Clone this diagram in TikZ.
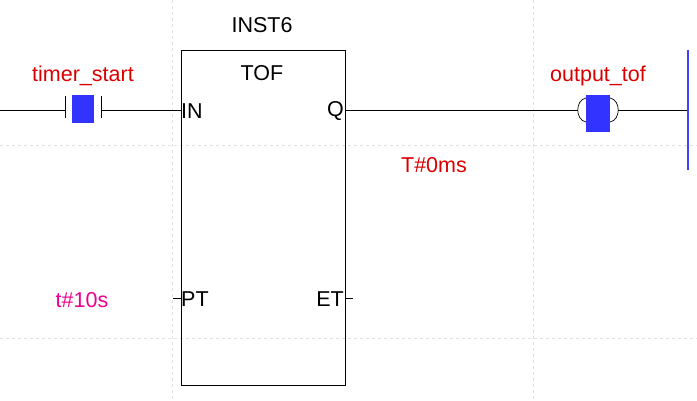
\documentclass[tikz,border=0pt]{standalone}
\usepackage{fontspec}
\setmainfont{Liberation Sans}
\begin{document}
\begin{tikzpicture}[x=1pt,y=-1pt,
  grid/.style={draw=black!12,dashed,line width=0.6pt},
  wire/.style={draw=black,line width=0.8pt},
  lbl/.style={font=\fontsize{21.5}{24}\selectfont,text=red!85!black,inner sep=0pt},
  blk/.style={font=\fontsize{21.5}{24}\selectfont,inner sep=0pt},
  blue fill/.style={fill=blue!80!white,draw=none}]
\useasboundingbox (0,0) rectangle (697,401);
\draw[grid] (0,145) -- (697,145);
\draw[grid] (0,338) -- (697,338);
\draw[grid] (172,0) -- (172,401);
\draw[grid] (533,0) -- (533,401);
% block
\draw[wire] (181,50) rectangle (345,385);
\node[blk] (inst) at (262,25) {INST6};
\node[blk] (tof) at (262,73) {TOF};
\node[blk,anchor=west] (in) at (181,111) {IN};
\node[blk,anchor=east] (q) at (344,111) {Q};
\node[blk,anchor=west] (pt) at (181,299) {PT};
\node[blk,anchor=east] (et) at (344,299) {ET};
% contact
\coordinate (l0) at (0,110);
\coordinate (c1) at (65,110);
\coordinate (c2) at (101,110);
\coordinate (bi) at (181,110);
\draw[wire] (l0) -- (c1) (c2) -- (bi);
\draw[wire] (65,96) -- (65,118) (101,96) -- (101,118);
\fill[blue fill] (72,95) rectangle (94,123);
\node[lbl] (ts) at (83,76) {timer\_start};
% coil
\coordinate (bq) at (345,110);
\coordinate (k1) at (578,110);
\coordinate (k2) at (618,110);
\coordinate (rail) at (688,110);
\draw[wire] (bq) -- (k1) (k2) -- (rail);
\draw[line width=0.7pt] (586,98) .. controls (575,100) and (575,120) .. (586,122);
\draw[line width=0.7pt] (610,98) .. controls (621,100) and (621,120) .. (610,122);
\fill[blue fill] (586,95) rectangle (610,132);
\node[lbl] (ot) at (598,76) {output\_tof};
\draw[blue!75!white,line width=2pt] (688,50) -- (688,170);
\node[lbl] (t0) at (434,165) {T\#0ms};
% PT / ET stubs
\coordinate (pts) at (173,298);
\coordinate (ets) at (353,298);
\draw[wire] (pts) -- (181,298);
\draw[wire] (345,298) -- (ets);
\node[lbl,text=magenta] (t10) at (82,300) {t\#10s};
\end{tikzpicture}
\end{document}
